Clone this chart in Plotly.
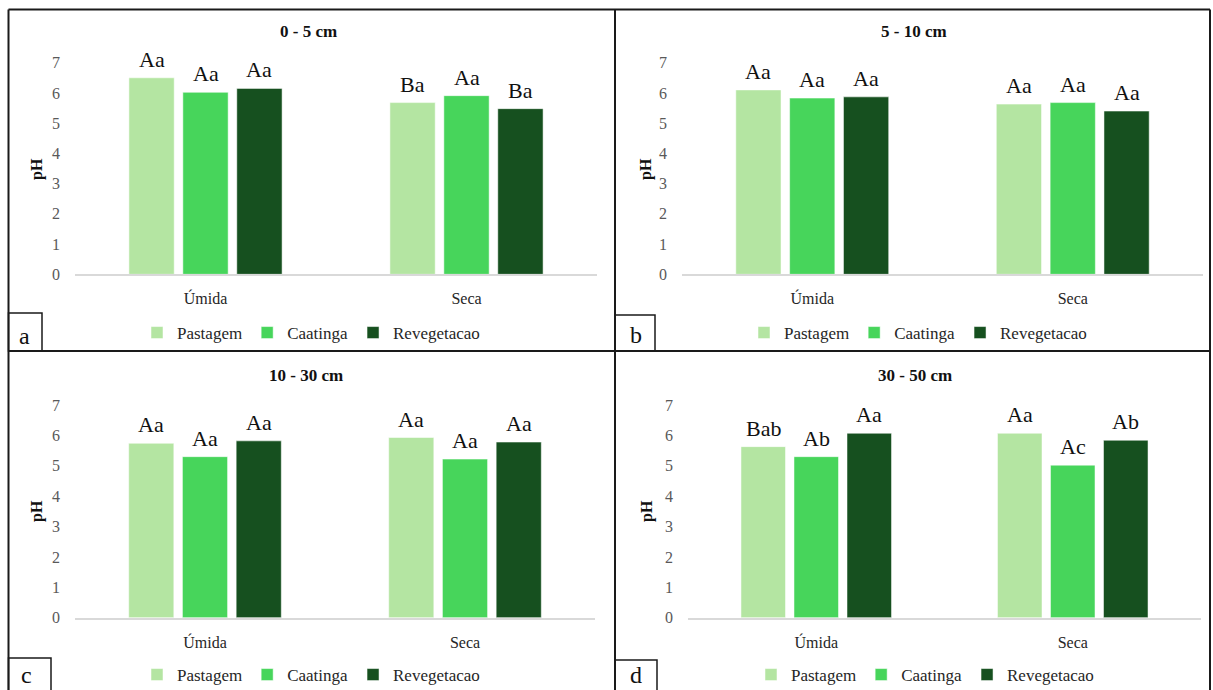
import plotly.graph_objects as go

W, H = 1213, 690

# ---- data -------------------------------------------------------------
depths = ["0 - 5 cm", "5 - 10 cm", "10 - 30 cm", "30 - 50 cm"]
panel_tags = ["a", "b", "c", "d"]
seasons = ["Úmida", "Seca"]
systems = ["Pastagem", "Caatinga", "Revegetacao"]

# pH per depth: [Úmida, Seca]
pastagem_ph = [[6.50, 5.68], [6.10, 5.63], [5.74, 5.93], [5.63, 6.07]]
caatinga_ph = [[6.02, 5.91], [5.83, 5.68], [5.30, 5.22], [5.30, 5.02]]
revegetacao_ph = [[6.15, 5.48], [5.87, 5.40], [5.82, 5.78], [6.07, 5.84]]

# Mean-comparison letters per depth: [Úmida, Seca]
pastagem_letters = [["Aa", "Ba"], ["Aa", "Aa"], ["Aa", "Aa"], ["Bab", "Aa"]]
caatinga_letters = [["Aa", "Aa"], ["Aa", "Aa"], ["Aa", "Aa"], ["Ab", "Ac"]]
revegetacao_letters = [["Aa", "Ba"], ["Aa", "Aa"], ["Aa", "Aa"], ["Aa", "Ab"]]

y_ticks = [0, 1, 2, 3, 4, 5, 6, 7]

# ---- styling ------------------------------------------------------------
FONT = "Liberation Serif"
colors = ["#b4e5a2", "#47d55b", "#16501f"]
series_vals = [pastagem_ph, caatinga_ph, revegetacao_ph]
series_letters = [pastagem_letters, caatinga_letters, revegetacao_letters]
BARGAP = 0.38
BARGROUPGAP = 0.16

# plot rectangles in pixels: (left, right, top, bottom)
plot_boxes = [(75, 597, 62.7, 274.3), (682, 1203, 62.7, 274.3),
              (75, 595, 405, 617.7), (688, 1201, 405, 617.7)]
title_pos = [(308, 31), (914, 31), (306, 375), (915, 375)]
ph_pos = [(37, 169), (646, 169), (37, 511), (647, 511)]
legend_pos = [(311, 333), (918, 333), (311, 675), (925, 675)]
tag_boxes = [(8.5, 42, 313, 351), (615, 655, 315, 351),
             (8.5, 51, 658, 692), (615, 657, 660, 692)]
tag_pos = [(24, 336, "middle"), (636, 335, "middle"),
           (26, 690, "bottom"), (636, 690, "bottom")]


def px(x):
    return x / W


def py(y):
    return 1 - y / H


fig = go.Figure()
layout = dict(
    width=W, height=H,
    margin=dict(l=0, r=0, t=0, b=0, autoexpand=False),
    paper_bgcolor="white", plot_bgcolor="white",
    barmode="group", bargap=BARGAP, bargroupgap=BARGROUPGAP,
    font=dict(family=FONT, color="#262626"),
)

annotations = []
shapes = []

for i in range(4):
    sfx = "" if i == 0 else str(i + 1)
    leg = "legend" if i == 0 else f"legend{i + 1}"
    l, r, t, b = plot_boxes[i]
    # width of one bar slot inside a category group, in pixels
    slot = (r - l) / len(seasons) * (1 - BARGAP) / len(systems)

    for k, (name, vals, letters, color) in enumerate(
            zip(systems, series_vals, series_letters, colors)):
        fig.add_trace(go.Bar(
            x=seasons, y=vals[i], name=name,
            marker=dict(color=color, line=dict(width=1, color="rgba(255,255,255,0.5)")),
            xaxis="x" + sfx, yaxis="y" + sfx, legend=leg,
        ))
        # significance letters just above each bar
        for season, v, txt in zip(seasons, vals[i], letters[i]):
            annotations.append(dict(
                text=txt, x=season, y=v, xref="x" + sfx, yref="y" + sfx,
                xanchor="center", yanchor="bottom",
                xshift=(k - 1) * slot, yshift=4, showarrow=False,
                font=dict(family=FONT, size=22, color="#111111"),
            ))

    layout["xaxis" + sfx] = dict(
        domain=[px(l), px(r)], anchor="y" + sfx,
        showline=True, linecolor="#d9d9d9", linewidth=1.5,
        showgrid=False, zeroline=False, ticks="",
        tickfont=dict(family=FONT, size=16, color="#262626"),
        ticklabelstandoff=9, fixedrange=True,
    )
    layout["yaxis" + sfx] = dict(
        domain=[py(b), py(t)], anchor="x" + sfx,
        range=[0, 7], tickvals=y_ticks,
        showline=False, showgrid=False, zeroline=False, ticks="",
        tickfont=dict(family=FONT, size=16, color="#595959"),
        ticklabelstandoff=14, fixedrange=True,
    )

    lx, ly = legend_pos[i]
    layout[leg] = dict(
        orientation="h", x=px(lx), y=py(ly),
        xanchor="center", yanchor="middle",
        font=dict(family=FONT, size=17, color="#262626"),
        bgcolor="rgba(0,0,0,0)", itemwidth=30,
    )

    tx, ty = title_pos[i]
    annotations.append(dict(
        text=f"<b>{depths[i]}</b>", x=px(tx), y=py(ty),
        xref="paper", yref="paper", xanchor="center", yanchor="middle",
        showarrow=False, font=dict(family=FONT, size=17, color="#111111"),
    ))
    hx, hy = ph_pos[i]
    annotations.append(dict(
        text="<b>pH</b>", x=px(hx), y=py(hy), textangle=-90,
        xref="paper", yref="paper", xanchor="center", yanchor="middle",
        showarrow=False, font=dict(family=FONT, size=16, color="#111111"),
    ))
    gx, gy, ganchor = tag_pos[i]
    annotations.append(dict(
        text=panel_tags[i], x=px(gx), y=py(gy),
        xref="paper", yref="paper", xanchor="center", yanchor=ganchor,
        showarrow=False, font=dict(family=FONT, size=24, color="#111111"),
    ))
    x0, x1, y0, y1 = tag_boxes[i]
    shapes.append(dict(
        type="rect", xref="paper", yref="paper",
        x0=px(x0), x1=px(x1), y0=py(y1), y1=py(y0),
        line=dict(color="#1a1a1a", width=1.5), fillcolor="rgba(0,0,0,0)",
    ))

# table frame around the four panels
frame = dict(color="#1a1a1a", width=2)
for x0, y0, x1, y1 in [(8.5, 9.5, 1210, 9.5), (8.5, 9.5, 8.5, 692),
                       (1210, 9.5, 1210, 692), (615, 9.5, 615, 692),
                       (8.5, 351, 1210, 351)]:
    shapes.append(dict(type="line", xref="paper", yref="paper",
                       x0=px(x0), x1=px(x1), y0=py(y0), y1=py(y1), line=frame))

layout["annotations"] = annotations
layout["shapes"] = shapes
fig.update_layout(**layout)
fig.write_html("out.html")
